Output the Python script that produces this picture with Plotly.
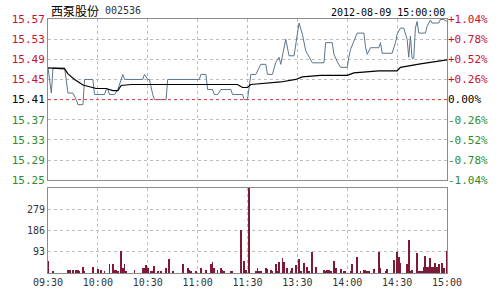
import plotly.graph_objects as go

# ---------------- data ----------------
stock_name = "西泵股份"
stock_code = "002536"
timestamp = "2012-08-09 15:00:00"
prev_close = 15.41

price_times = ["09:30", "09:32", "09:33", "09:40", "09:42", "09:45", "09:47", "09:48", "09:51", "09:52",
               "09:57", "09:58", "10:04", "10:05", "10:06", "10:07", "10:10", "10:12", "10:15", "10:16",
               "10:27", "10:28", "10:30", "10:31", "10:33", "10:34", "10:41", "10:42", "11:01", "11:02",
               "11:05", "11:06", "11:09", "11:10", "11:12", "11:14", "11:20", "11:21", "11:27", "11:28",
               "11:30", "13:01", "13:02", "13:05", "13:08", "13:11", "13:12", "13:15", "13:17", "13:19",
               "13:20", "13:23", "13:25", "13:28", "13:31", "13:33", "13:35", "13:39", "13:46", "13:47",
               "13:51", "13:52", "13:54", "13:56", "14:00", "14:01", "14:02", "14:06", "14:10", "14:11",
               "14:12", "14:14", "14:19", "14:20", "14:21", "14:27", "14:29", "14:30", "14:32", "14:34",
               "14:36", "14:37", "14:38", "14:39", "14:40", "14:41", "14:42", "14:43", "14:47", "14:48",
               "14:50", "14:51", "14:55", "14:56", "14:58", "15:00"]
price_values = [15.473, 15.423, 15.473, 15.473, 15.423, 15.423, 15.410, 15.400, 15.400, 15.450,
                15.450, 15.420, 15.420, 15.430, 15.430, 15.420, 15.420, 15.430, 15.460, 15.450,
                15.450, 15.460, 15.450, 15.450, 15.420, 15.410, 15.410, 15.450, 15.450, 15.460,
                15.460, 15.430, 15.430, 15.420, 15.420, 15.430, 15.430, 15.420, 15.420, 15.410,
                15.410, 15.440, 15.460, 15.460, 15.480, 15.480, 15.460, 15.460, 15.484, 15.494,
                15.480, 15.530, 15.497, 15.497, 15.562, 15.540, 15.507, 15.483, 15.483, 15.523,
                15.523, 15.500, 15.485, 15.474, 15.474, 15.495, 15.510, 15.542, 15.542, 15.514,
                15.500, 15.513, 15.513, 15.523, 15.502, 15.502, 15.523, 15.540, 15.552, 15.552,
                15.530, 15.494, 15.536, 15.492, 15.492, 15.552, 15.565, 15.542, 15.542, 15.555,
                15.568, 15.562, 15.562, 15.569, 15.569, 15.565]

avg_times = ["09:30", "09:40", "09:42", "09:46", "09:51", "09:55", "09:59", "10:05", "10:09", "10:12",
             "10:14", "10:20", "11:24", "11:27", "11:30", "13:02", "13:16", "13:20", "13:29", "13:33",
             "13:44", "14:00", "14:04", "14:19", "14:30", "14:32", "14:44", "15:00"]
avg_values = [15.473, 15.471, 15.461, 15.450, 15.439, 15.435, 15.432, 15.432, 15.428, 15.428,
              15.438, 15.440, 15.440, 15.434, 15.434, 15.440, 15.443, 15.445, 15.450, 15.455,
              15.458, 15.458, 15.463, 15.467, 15.467, 15.474, 15.481, 15.489]

vol_times = ["09:30", "09:33", "09:42", "09:43", "09:45", "09:47", "09:48", "09:49", "09:51", "09:52",
             "09:57", "10:00", "10:02", "10:04", "10:07", "10:09", "10:10", "10:11", "10:12", "10:14",
             "10:15", "10:16", "10:17", "10:22", "10:27", "10:28", "10:29", "10:30", "10:32", "10:33",
             "10:34", "10:36", "10:38", "10:41", "10:43", "10:45", "10:51", "10:54", "10:55", "10:56",
             "10:59", "11:02", "11:05", "11:08", "11:09", "11:10", "11:12", "11:14", "11:15", "11:16",
             "11:20", "11:21", "11:26", "11:28", "11:29", "13:01", "13:05", "13:06", "13:07", "13:08",
             "13:11", "13:12", "13:14", "13:15", "13:17", "13:18", "13:19", "13:21", "13:22", "13:24",
             "13:26", "13:27", "13:29", "13:31", "13:32", "13:34", "13:36", "13:37", "13:39", "13:41",
             "13:46", "13:47", "13:48", "13:49", "13:50", "13:52", "13:53", "13:56", "13:58", "13:59",
             "14:02", "14:03", "14:06", "14:08", "14:10", "14:11", "14:12", "14:13", "14:16", "14:19",
             "14:20", "14:23", "14:24", "14:28", "14:30", "14:31", "14:32", "14:36", "14:37", "14:38",
             "14:39", "14:42", "14:43", "14:44", "14:45", "14:46", "14:47", "14:48", "14:49", "14:50",
             "14:51", "14:52", "14:53", "14:54", "14:55", "14:57", "14:58", "15:00"]
vol_values = [54, 6, 14, 14, 11, 14, 14, 8, 26, 8,
              28, 18, 14, 8, 40, 40, 14, 14, 8, 97,
              23, 40, 6, 14, 23, 23, 37, 23, 8, 8,
              31, 8, 8, 23, 61, 6, 40, 23, 11, 8,
              8, 23, 11, 40, 48, 23, 14, 23, 14, 8,
              6, 6, 190, 51, 14, 372, 9, 23, 8, 6,
              23, 17, 14, 6, 40, 6, 48, 66, 48, 23,
              8, 23, 36, 61, 8, 43, 26, 6, 94, 28,
              14, 8, 14, 11, 8, 51, 23, 18, 6, 6,
              8, 40, 68, 6, 11, 14, 8, 6, 18, 90,
              23, 8, 18, 57, 93, 71, 43, 40, 143, 8,
              14, 88, 8, 8, 8, 26, 76, 28, 28, 66,
              26, 26, 43, 26, 40, 43, 23, 97]

time_ticks = ["09:30", "10:00", "10:30", "11:00", "11:30", "13:30", "14:00", "14:30", "15:00"]
price_ticks = [15.25, 15.29, 15.33, 15.37, 15.41, 15.45, 15.49, 15.53, 15.57]
pct_ticks = [-1.04, -0.78, -0.52, -0.26, 0.00, 0.26, 0.52, 0.78, 1.04]
vol_ticks = [93, 186, 279]
vol_max = 372


def minute_index(t):
    h, m = map(int, t.split(":"))
    total = h * 60 + m
    if total <= 11 * 60 + 30:
        return total - (9 * 60 + 30)
    return 120 + total - 13 * 60


RED = "#C8102E"
GREEN = "#2E8B2E"
BLACK = "#000000"
GRID = "#BDBDBD"
FRAME = "#8C8C8C"
MONO = "DejaVu Sans Mono"


def colored(text, val, ref):
    c = RED if val > ref + 1e-9 else (GREEN if val < ref - 1e-9 else BLACK)
    return f'<span style="color:{c}">{text}</span>'


px = [minute_index(t) for t in price_times]
ax_ = [minute_index(t) for t in avg_times]
vx = [minute_index(t) for t in vol_times]
tick_x = [minute_index(t) for t in time_ticks]

fig = go.Figure()
fig.add_trace(go.Scatter(x=px, y=price_values, mode="lines",
                         line=dict(color="#5B7589", width=1.0), xaxis="x", yaxis="y",
                         hoverinfo="skip", showlegend=False))
fig.add_trace(go.Scatter(x=ax_, y=avg_values, mode="lines",
                         line=dict(color="#000000", width=1.2), xaxis="x", yaxis="y",
                         hoverinfo="skip", showlegend=False))
# invisible trace to carry the percentage axis
fig.add_trace(go.Scatter(x=[0, 240], y=[pct_ticks[0], pct_ticks[-1]], mode="lines",
                         line=dict(width=0), opacity=0, xaxis="x", yaxis="y3",
                         hoverinfo="skip", showlegend=False))
fig.add_trace(go.Bar(x=vx, y=vol_values, width=0.5, marker=dict(color="#7E1A35", line=dict(width=0)),
                     xaxis="x2", yaxis="y2", hoverinfo="skip", showlegend=False))

fig.add_shape(type="line", xref="x", yref="y", x0=0, x1=240, y0=prev_close, y1=prev_close,
              line=dict(color="#D04040", width=1, dash="dot"))

grid_common = dict(showgrid=True, gridcolor=GRID, griddash="dot", gridwidth=1,
                   showline=True, linecolor=FRAME, linewidth=1, mirror=True,
                   zeroline=False, ticks="", fixedrange=True)

fig.update_layout(
    width=500, height=300,
    margin=dict(l=46, r=51, t=19, b=21),
    paper_bgcolor="white", plot_bgcolor="white",
    bargap=0,
    xaxis=dict(domain=[0, 1], range=[0, 240], tickvals=tick_x, showticklabels=False,
               anchor="y", **grid_common),
    yaxis=dict(domain=[0.36538, 1], range=[price_ticks[0], price_ticks[-1]], tickvals=price_ticks,
               ticktext=[colored(f"{v:.2f}", v, prev_close) for v in price_ticks],
               tickfont=dict(family=MONO, size=11), anchor="x", **grid_common),
    yaxis3=dict(overlaying="y", side="right", anchor="x", range=[pct_ticks[0], pct_ticks[-1]],
                tickvals=pct_ticks,
                ticktext=[colored(("+" if v > 0 else ("-" if v < 0 else "")) + f"{abs(v):.2f}%", v, 0)
                          for v in pct_ticks],
                tickfont=dict(family=MONO, size=11), showgrid=False, zeroline=False,
                showline=False, ticks="", fixedrange=True),
    xaxis2=dict(domain=[0, 1], range=[0, 240], tickvals=tick_x, ticktext=time_ticks,
                tickfont=dict(family=MONO, size=10, color="#333333"), anchor="y2", **grid_common),
    yaxis2=dict(domain=[0, 0.33462], range=[0, vol_max], tickvals=vol_ticks,
                ticktext=[str(v) for v in vol_ticks],
                tickfont=dict(family=MONO, size=10, color="#333333"), anchor="x2", **grid_common),
)

fig.add_annotation(text=stock_name, xref="paper", yref="paper", x=0.003, y=1.035,
                   xanchor="left", yanchor="middle", showarrow=False,
                   font=dict(family="Noto Sans CJK SC", size=12, color="#000000"))
fig.add_annotation(text=stock_code, xref="paper", yref="paper", x=0.137, y=1.035,
                   xanchor="left", yanchor="middle", showarrow=False,
                   font=dict(family=MONO, size=10, color="#333333"))
fig.add_annotation(text=timestamp, xref="paper", yref="paper", x=1.0, y=1.027,
                   xanchor="right", yanchor="middle", showarrow=False,
                   font=dict(family=MONO, size=10, color="#000000"))

fig.write_html("out.html")
